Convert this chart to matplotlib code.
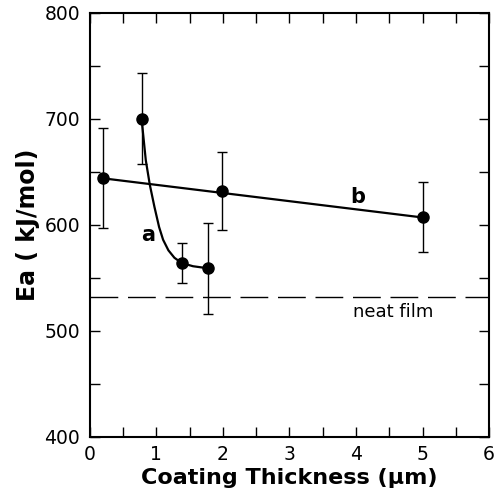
import matplotlib
matplotlib.use("Agg")
import matplotlib.pyplot as plt
from matplotlib.ticker import MultipleLocator

plt.rcParams['font.family'] = ['DejaVu Sans']
plt.rcParams['lines.scale_dashes'] = False

# series a (steep drop) - measured points with error bars
a_x = [0.78, 1.39, 1.78]
a_y = [700, 564, 559]
a_err = [43, 19, 43]
a_curve_x = [0.78, 0.84, 0.90, 0.97, 1.04, 1.10, 1.18, 1.27, 1.38, 1.55, 1.78]
a_curve_y = [698, 661, 638, 617, 598, 586, 576, 569, 564, 561, 559]

# series b (near flat)
b_x = [0.19, 1.98, 5.0]
b_y = [644, 632, 607]
b_err = [47, 37, 33]

neat_film = 532

fig = plt.figure(figsize=(4.94, 4.97), dpi=100)
ax = fig.add_axes([0.182, 0.121, 0.808, 0.853])

# curves
ax.plot(a_curve_x, a_curve_y, color="black", lw=1.6)
ax.plot([b_x[0], b_x[-1]], [b_y[0], b_y[-1]], color="black", lw=1.6)

# data points with error bars
ax.errorbar(a_x, a_y, yerr=a_err, fmt="o", color="black", ms=8,
            elinewidth=1.0, capsize=3.5, capthick=1.0)
ax.errorbar(b_x, b_y, yerr=b_err, fmt="o", color="black", ms=8,
            elinewidth=1.0, capsize=3.5, capthick=1.0)

# neat film reference
ax.axhline(neat_film, color="black", lw=1.0, ls=(0, (20, 7)))

ax.text(0.87, 590, "a", fontsize=15, fontweight="bold", ha="center", va="center")
ax.text(4.03, 626, "b", fontsize=15, fontweight="bold", ha="center", va="center")
ax.text(4.56, 518, "neat film", fontsize=13, ha="center", va="center")

ax.set_xlim(0, 6)
ax.set_ylim(400, 800)
ax.xaxis.set_major_locator(MultipleLocator(1))
ax.xaxis.set_minor_locator(MultipleLocator(0.5))
ax.yaxis.set_major_locator(MultipleLocator(100))
ax.yaxis.set_minor_locator(MultipleLocator(50))
ax.tick_params(which="both", direction="in", top=True, right=True,
               length=7, width=1.0, labelsize=13.5)
ax.tick_params(axis="y", pad=7)
ax.tick_params(axis="x", pad=6)
for s in ax.spines.values():
    s.set_linewidth(1.5)

ax.set_xlabel("Coating Thickness (\u03bcm)", fontsize=16, fontweight="bold", labelpad=3)
ax.set_ylabel("Ea ( kJ/mol)", fontsize=17, fontweight="bold", labelpad=3)

plt.savefig("out.png", dpi=100)
